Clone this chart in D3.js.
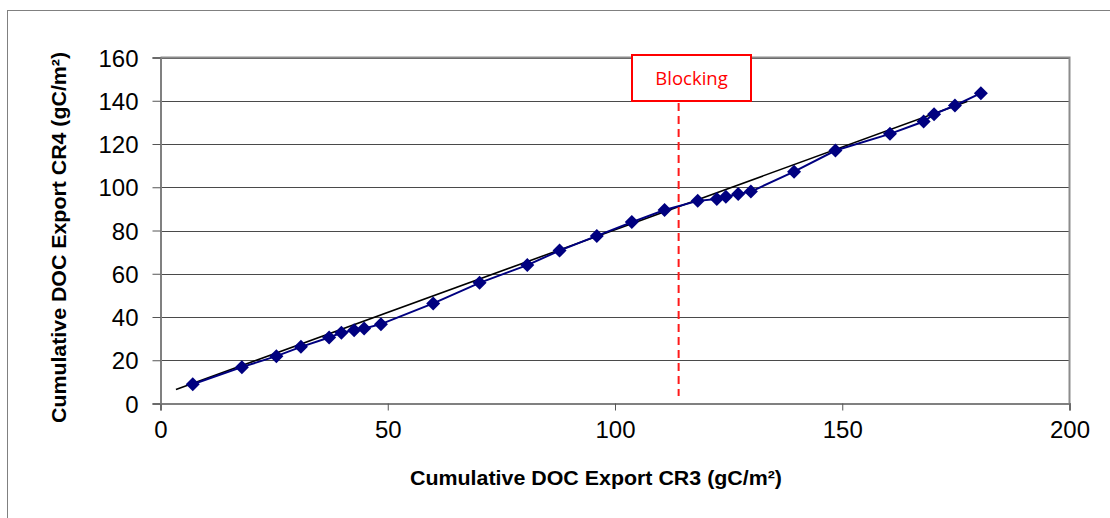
<!DOCTYPE html>
<html>
<head>
<meta charset="utf-8">
<script src="https://cdn.jsdelivr.net/npm/d3@7"></script>
<style>
  html, body { margin: 0; padding: 0; background: #fff; }
  svg { display: block; }
</style>
</head>
<body>
<svg id="chart" width="1110" height="518"></svg>
<script>
// ---- Data ----
const cr3 = [7.1, 17.9, 25.5, 30.9, 37.1, 39.8, 42.6, 44.8, 48.5, 60.0, 70.2, 80.7, 87.8, 96.0, 103.7, 110.9, 118.2, 122.4, 124.4, 127.1, 129.9, 139.4, 148.5, 160.5, 167.9, 170.2, 174.8, 180.5];
const cr4 = [8.9, 16.8, 21.9, 26.2, 30.5, 32.7, 33.9, 34.7, 36.7, 46.3, 55.8, 64.0, 70.7, 77.5, 83.9, 89.5, 93.7, 94.6, 95.6, 96.9, 98.0, 107.2, 117.0, 124.7, 130.4, 133.8, 137.8, 143.5];
const trendX = [3.4, 177.5];
const trendY = [6.5, 139.6];
const blockingX = 114;
const xTicks = [0, 50, 100, 150, 200];
const yTicks = [0, 20, 40, 60, 80, 100, 120, 140, 160];
const xTitle = "Cumulative DOC Export CR3 (gC/m²)";
const yTitle = "Cumulative DOC Export CR4 (gC/m²)";
const blockingLabel = "Blocking";

// ---- Layout ----
const svg = d3.select("#chart");
const x = d3.scaleLinear().domain([0, 200]).range([160.5, 1069.5]);
const y = d3.scaleLinear().domain([0, 160]).range([403.5, 57.5]);

// outer chart border
svg.append("rect").attr("x", 7.5).attr("y", 10.5).attr("width", 1120).attr("height", 530)
  .attr("fill", "none").attr("stroke", "#808080").attr("stroke-width", 1);

// gridlines
svg.append("g").selectAll("line").data(yTicks.filter(d => d > 0)).join("line")
  .attr("x1", x(0)).attr("x2", x(200))
  .attr("y1", d => Math.round(y(d)) + 0.5).attr("y2", d => Math.round(y(d)) + 0.5)
  .attr("stroke", "#4a4a4a").attr("stroke-width", 1);

// plot frame (right & top)
svg.append("path")
  .attr("d", `M${x(0)},${y(160)}H${x(200)}V${y(0)}`)
  .attr("fill", "none").attr("stroke", "#8c8c8c").attr("stroke-width", 2);

// axes
const yAxis = d3.axisLeft(y).tickValues(yTicks).tickSize(8).tickPadding(14).tickFormat(d3.format("d"));
const xAxis = d3.axisBottom(x).tickValues(xTicks).tickSize(7).tickPadding(10).tickFormat(d3.format("d"));

const gy = svg.append("g").attr("transform", `translate(${x(0)},0)`).call(yAxis);
const gx = svg.append("g").attr("transform", `translate(0,${y(0)})`).call(xAxis);
[gx, gy].forEach(g => {
  g.select(".domain").attr("stroke", "#808080").attr("stroke-width", 2);
  g.selectAll(".tick line").attr("stroke", "#555").attr("stroke-width", 1);
  g.selectAll(".tick text").attr("fill", "#000")
    .style("font-family", "'Liberation Sans', Arial, sans-serif").style("font-size", "24px");
});
gy.selectAll(".tick text").attr("dy", "0.36em");
gx.selectAll(".tick text").attr("dy", "0.72em");

// trend line
svg.append("line")
  .attr("x1", x(trendX[0])).attr("y1", y(trendY[0]))
  .attr("x2", x(trendX[1])).attr("y2", y(trendY[1]))
  .attr("stroke", "#000").attr("stroke-width", 1.6);

// data series line
const pts = cr3.map((d, i) => [d, cr4[i]]);
svg.append("path").datum(pts)
  .attr("d", d3.line().x(d => x(d[0])).y(d => y(d[1])))
  .attr("fill", "none").attr("stroke", "#000080").attr("stroke-width", 2);

// diamonds
svg.append("g").selectAll("path").data(pts).join("path")
  .attr("transform", d => `translate(${x(d[0])},${y(d[1])})`)
  .attr("d", "M0,-7L7,0L0,7L-7,0Z")
  .attr("fill", "#000080");

// blocking dashed line
svg.append("line")
  .attr("x1", x(blockingX)).attr("x2", x(blockingX))
  .attr("y1", 103).attr("y2", 396)
  .attr("stroke", "#ff1a1a").attr("stroke-width", 2)
  .attr("stroke-dasharray", "8,5");

// blocking box
svg.append("rect").attr("x", 632).attr("y", 55).attr("width", 119).attr("height", 46)
  .attr("fill", "#fff").attr("stroke", "#ff0000").attr("stroke-width", 2);
svg.append("text").attr("x", 691.5).attr("y", 85).attr("text-anchor", "middle")
  .attr("fill", "#ff0000")
  .style("font-family", "'Open Sans', sans-serif").style("font-size", "18.5px")
  .text(blockingLabel);

// axis titles
svg.append("text").attr("x", 596).attr("y", 485).attr("text-anchor", "middle")
  .style("font-family", "'Liberation Sans', Arial, sans-serif").style("font-weight", "bold")
  .style("font-size", "20px").attr("fill", "#000")
  .attr("textLength", 372).attr("lengthAdjust", "spacingAndGlyphs")
  .text(xTitle);
svg.append("text")
  .attr("transform", "translate(66,237.5) rotate(-90)")
  .attr("text-anchor", "middle")
  .style("font-family", "'Liberation Sans', Arial, sans-serif").style("font-weight", "bold")
  .style("font-size", "20px").attr("fill", "#000")
  .attr("textLength", 371).attr("lengthAdjust", "spacingAndGlyphs")
  .text(yTitle);
</script>
</body>
</html>
